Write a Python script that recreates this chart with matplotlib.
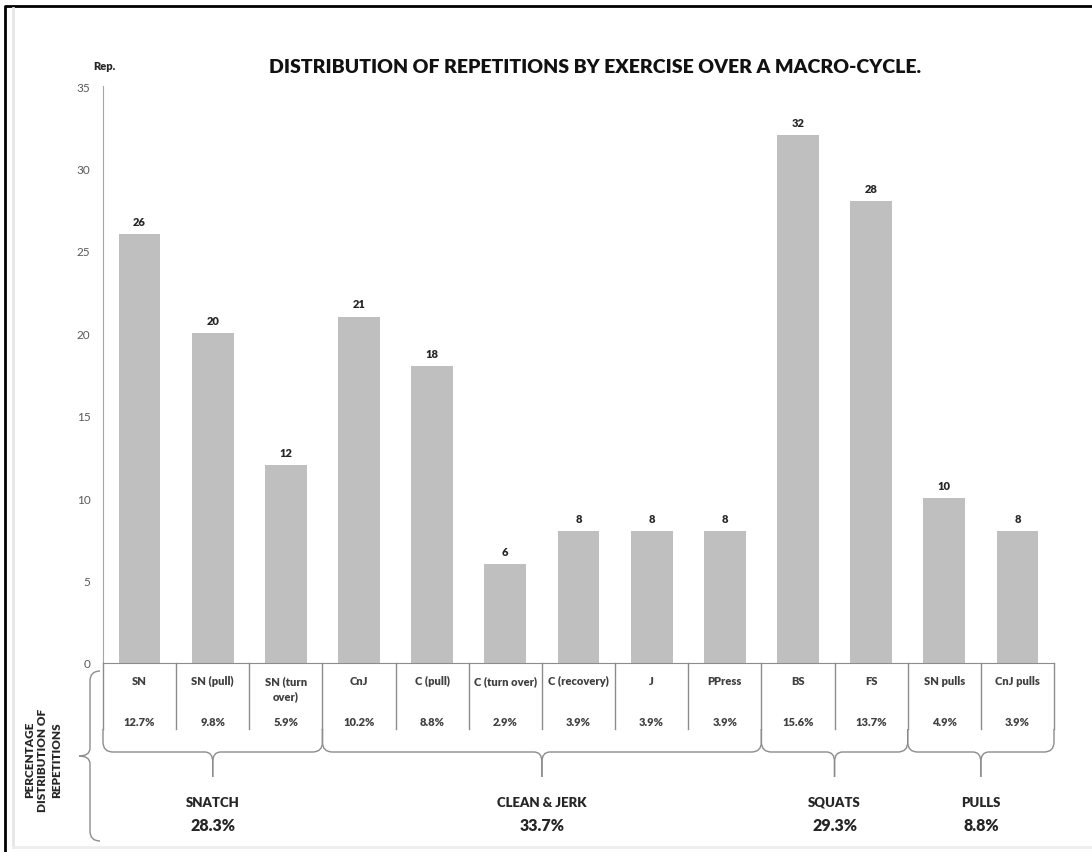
import matplotlib
matplotlib.use('Agg')
import matplotlib.pyplot as plt
from matplotlib.path import Path
from matplotlib.patches import PathPatch
from matplotlib.transforms import blended_transform_factory
import numpy as np

plt.rcParams['font.family'] = ['Lato', 'DejaVu Sans']

exercises = ['SN', 'SN (pull)', 'SN (turn\nover)', 'CnJ', 'C (pull)', 'C (turn over)',
             'C (recovery)', 'J', 'PPress', 'BS', 'FS', 'SN pulls', 'CnJ pulls']
reps = [26, 20, 12, 21, 18, 6, 8, 8, 8, 32, 28, 10, 8]
pct = ['12.7%', '9.8%', '5.9%', '10.2%', '8.8%', '2.9%', '3.9%', '3.9%', '3.9%',
       '15.6%', '13.7%', '4.9%', '3.9%']
groups = ['SNATCH', 'CLEAN & JERK', 'SQUATS', 'PULLS']
group_sizes = [3, 6, 2, 2]
group_pct = ['28.3%', '33.7%', '29.3%', '8.8%']
yticks = [0, 5, 10, 15, 20, 25, 30, 35]

W, H = 1092, 853
LINE = '#8c8c8c'
TXT = '#262626'
BOLD = 'heavy'
fig = plt.figure(figsize=(W / 100, H / 100), dpi=100)

ax = fig.add_axes([103 / W, 1 - 664 / H, 951 / W, 577 / H])
x = np.arange(len(reps))
ax.bar(x, reps, width=0.57, color='#bfbfbf')
ax.set_xlim(-0.5, len(reps) - 0.5)
ax.set_ylim(0, 35)
ax.set_yticks(yticks)
ax.set_xticks([])
for s in ['top', 'right']:
    ax.spines[s].set_visible(False)
ax.spines['left'].set_color('#a6a6a6')
ax.spines['bottom'].set_color(LINE)
ax.tick_params(axis='y', length=0, pad=9, labelsize=8.5, labelcolor='#595959')
for xi, v in zip(x, reps):
    ax.text(xi, v + 0.45, str(v), ha='center', va='bottom', fontsize=8,
            fontweight=BOLD, color=TXT)

# overlay in pixel coordinates (y down)
ov = fig.add_axes([0, 0, 1, 1])
ov.set_xlim(0, W)
ov.set_ylim(H, 0)
ov.axis('off')
ov.patch.set_visible(False)
tr = blended_transform_factory(ax.transData, ov.transData)


def px(xd):
    return ax.transData.transform([[xd, 0]])[0, 0]


# table cells
for b in np.arange(-0.5, len(reps), 1.0):
    ov.plot([b, b], [664, 730], color=LINE, lw=1, transform=tr)
for i, (lab, p) in enumerate(zip(exercises, pct)):
    ov.text(i, 676, lab, ha='center', va='top', fontsize=8, fontweight=BOLD,
            color='#404040', linespacing=1.45, transform=tr)
    ov.text(i, 723, p, ha='center', va='center', fontsize=8, fontweight=BOLD,
            color='#404040', transform=tr)


def brace_down(xl, xr, yt=730, ym=753, ytip=778, r=10):
    xc = (xl + xr) / 2
    for a, s in [(xl, 1), (xr, -1)]:
        verts = [(a, yt), (a, ym - r), (a, ym), (a + s * r, ym),
                 (xc - s * 8, ym), (xc, ym), (xc, ym + 10), (xc, ytip)]
        codes = [Path.MOVETO, Path.LINETO, Path.CURVE3, Path.CURVE3,
                 Path.LINETO, Path.CURVE3, Path.CURVE3, Path.LINETO]
        ov.add_patch(PathPatch(Path(verts, codes), fill=False, ec=LINE, lw=1))
    return xc


start = -0.5
for name, n, gp in zip(groups, group_sizes, group_pct):
    xl, xr = px(start), px(start + n)
    xc = brace_down(xl, xr)
    ov.text(xc, 803, name, ha='center', va='center', fontsize=9.5,
            fontweight=BOLD, color=TXT)
    ov.text(xc, 826, gp, ha='center', va='center', fontsize=11.5,
            fontweight=BOLD, color=TXT)
    start += n

# left brace
for yend, s in [(672, 1), (842, -1)]:
    verts = [(100, yend), (90, yend), (90, yend + s * 10), (90, 757 - s * 8),
             (90, 757), (79, 757)]
    codes = [Path.MOVETO, Path.CURVE3, Path.CURVE3, Path.LINETO,
             Path.CURVE3, Path.CURVE3]
    ov.add_patch(PathPatch(Path(verts, codes), fill=False, ec=LINE, lw=1))
ov.text(43, 760, 'PERCENTAGE\nDISTRIBUTION OF\nREPETITIONS', rotation=90,
        ha='center', va='center', fontsize=8.5, fontweight=BOLD,
        color=TXT, multialignment='center', linespacing=1.3)

ov.text(595, 67, 'DISTRIBUTION OF REPETITIONS BY EXERCISE OVER A MACRO-CYCLE.',
        ha='center', va='center', fontsize=14, fontweight=BOLD, color='#111111')
ov.text(104, 66, 'Rep.', ha='center', va='center', fontsize=8,
        fontweight=BOLD, color=TXT)

# frame
ov.plot([5, 5, W], [H, 7, 7], color='black', lw=2)
ov.plot([13, 13], [9, 848], color='#e6e6e6', lw=2)
ov.plot([13, W], [848, 848], color='#eeeeee', lw=2)

fig.savefig('out.png', dpi=100)
